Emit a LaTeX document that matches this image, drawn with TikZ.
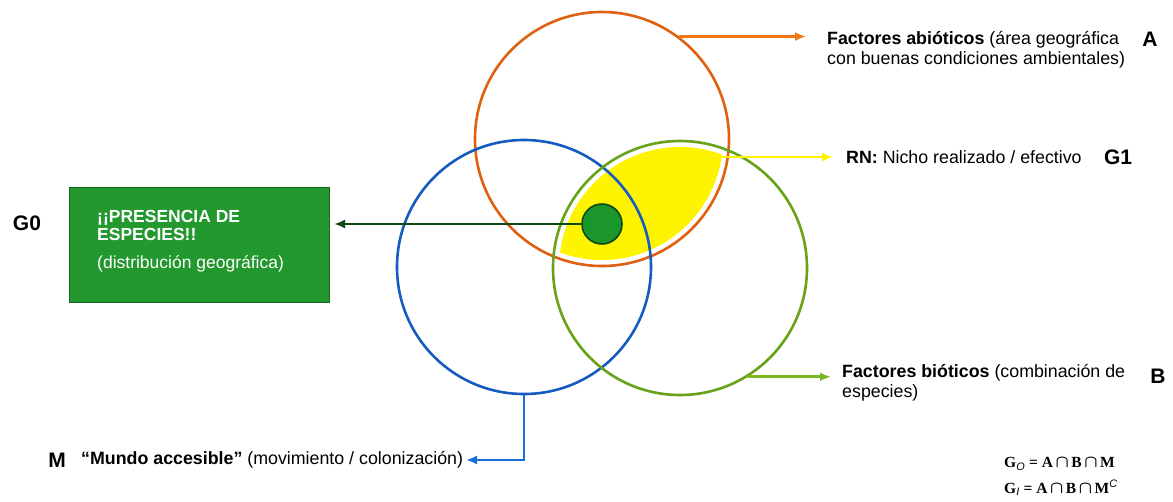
\documentclass[tikz,border=0pt]{standalone}
\usepackage{fontspec}
\setmainfont{Liberation Sans}
\newfontfamily\formfont{Liberation Serif}
\usetikzlibrary{arrows.meta,positioning}

\definecolor{abio}{RGB}{222,96,16}
\definecolor{abiolead}{RGB}{240,118,20}
\definecolor{bio}{RGB}{104,162,22}
\definecolor{biolead}{RGB}{122,182,32}
\definecolor{mundo}{RGB}{22,92,192}
\definecolor{mundolead}{RGB}{24,112,214}
\definecolor{nicho}{RGB}{255,244,0}
\definecolor{presfill}{RGB}{26,150,42}
\definecolor{presline}{RGB}{14,72,18}
\definecolor{boxfill}{RGB}{34,152,46}
\definecolor{boxline}{RGB}{22,104,30}

\newcommand\capop{{\fontsize{19}{19}\selectfont\boldmath$\cap$}}

\tikzset{
  ring/.style={circle,draw,line width=2.6pt,minimum size=254pt,inner sep=0pt},
  lbl/.style={anchor=west,inner sep=0pt,align=left,font=\fontsize{17.8}{20}\selectfont},
  tag/.style={inner sep=0pt,font=\fontsize{21}{24}\selectfont\bfseries},
  lead/.style={line width=2.8pt,-{Latex[length=11pt,width=9pt]}},
  formula/.style={anchor=west,inner sep=0pt,font=\fontsize{15.5}{17}\formfont\bfseries},
}

\begin{document}
\begin{tikzpicture}[x=1pt,y=-1pt]
  \useasboundingbox (0,0) rectangle (1173,501);

  % nicho realizado (A and B)
  \begin{scope}
    \clip (602,139) circle (121pt);
    \fill[nicho] (680,268) circle (121pt);
  \end{scope}
  \coordinate (RNtip) at (716,157);

  \node[ring,draw=abio] (A) at (602,139) {};
  \node[ring,draw=mundo] (M) at (524,267) {};
  \node[ring,draw=bio] (B) at (680,268) {};
  \node[circle,draw=presline,fill=presfill,line width=1.6pt,minimum size=40pt] (pres) at (602,224) {};

  % G0 box
  \node[draw=boxline,fill=boxfill,line width=1pt,minimum width=260pt,minimum height=115pt] (G0box) at (199,245) {};
  \node[anchor=north west,inner sep=0pt,align=left,text=white,font=\fontsize{17.5}{18}\selectfont] (G0txt) at (97,210)
    {\textbf{¡¡PRESENCIA DE}\\\textbf{ESPECIES!!}\\[10pt](distribución geográfica)};
  \node[tag] (G0) at (27,223) {G0};

  % labels
  \node[lbl] (abiotxt) at (827,50) {\textbf{Factores abióticos} (área geográfica\\con buenas condiciones ambientales)};
  \node[tag] (Atag) at (1150,39) {A};
  \node[lbl] (rntxt) at (846,157) {\textbf{RN:} Nicho realizado / efectivo};
  \node[tag,right=22pt of rntxt] (G1) {G1};
  \node[lbl] (biotxt) at (842,383) {\textbf{Factores bióticos} (combinación de\\especies)};
  \node[tag] (Btag) at (1158,376) {B};
  \node[lbl] (mundotxt) at (81,460) {\textbf{“Mundo accesible”} (movimiento / colonización)};
  \node[tag,left=15pt of mundotxt] (Mtag) {M};

  \node[formula] (f0) at (1004,464) {G$_{\mathit{O}}$ = A\,\capop\,B\,\capop\,M};
  \node[formula] (f1) at (1004,488) {G$_{\mathit{I}}$ = A\,\capop\,B\,\capop\,M$^{\mathit{C}}$};

  % arrows
  \coordinate (tipA) at (806,37);
  \coordinate (tipRN) at (833,157);
  \coordinate (tipB) at (831,374);
  \coordinate (tipM) at (466,460);
  \coordinate (tipG0) at (334,224);
  \draw[lead,abiolead] (A.53) -- (A.53 -| tipA);
  \draw[lead,nicho] (RNtip) -- (tipRN);
  \draw[lead,biolead] (B.-58) -- (B.-58 -| tipB);
  \draw[lead,mundolead] (M.south) |- (tipM);
  \draw[lead,presline] (pres.west) -- (tipG0);
\end{tikzpicture}
\end{document}
